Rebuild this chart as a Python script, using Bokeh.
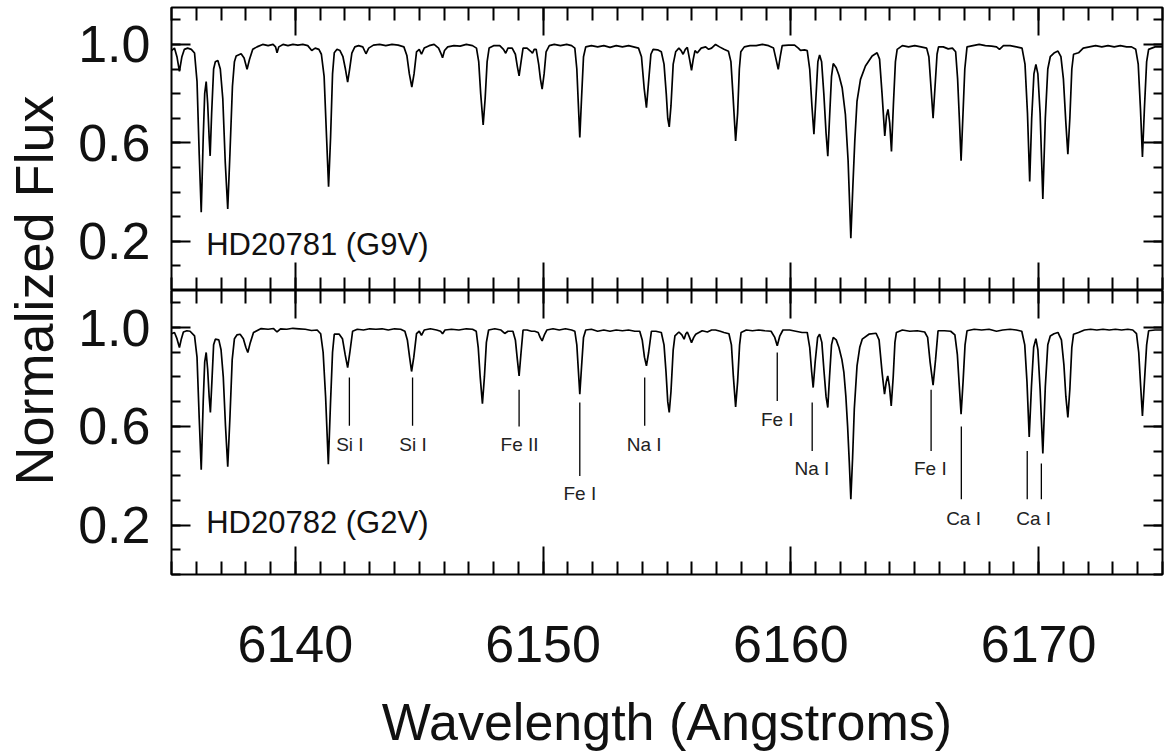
import math
from bokeh.plotting import figure
from bokeh.models import (Range1d, LinearAxis, FixedTicker, Label, ColumnDataSource,
                          CustomJSTickFormatter, PrintfTickFormatter)
from bokeh.layouts import row, column
from bokeh.embed import file_html
from bokeh.resources import INLINE
from bokeh.core.properties import value

# ---------------- data ----------------
x_major_ticks = [6140, 6150, 6160, 6170]
y_major_ticks = [0.2, 0.6, 1.0]

star_top = "HD20781 (G9V)"
star_bottom = "HD20782 (G2V)"

wl_top = [6135.00, 6135.12, 6135.22, 6135.32, 6135.42, 6135.52, 6135.65, 6135.80, 6135.93, 6136.03,
          6136.12, 6136.20, 6136.28, 6136.34, 6136.40, 6136.46, 6136.52, 6136.56, 6136.62, 6136.70,
          6136.77, 6136.87, 6136.97, 6137.07, 6137.17, 6137.27, 6137.36, 6137.46, 6137.54, 6137.61,
          6137.81, 6137.93, 6138.05, 6138.15, 6138.28, 6138.45, 6138.68, 6138.90, 6139.10, 6139.20,
          6139.26, 6139.33, 6139.50, 6139.70, 6139.90, 6140.10, 6140.30, 6140.50, 6140.66, 6140.80,
          6140.95, 6141.05, 6141.16, 6141.26, 6141.34, 6141.42, 6141.50, 6141.57, 6141.68, 6141.80,
          6141.92, 6142.02, 6142.11, 6142.19, 6142.28, 6142.40, 6142.55, 6142.72, 6142.85, 6142.96,
          6143.15, 6143.40, 6143.65, 6143.90, 6144.15, 6144.38, 6144.50, 6144.60, 6144.70, 6144.79,
          6144.89, 6145.00, 6145.09, 6145.20, 6145.40, 6145.60, 6145.78, 6145.87, 6145.94, 6146.02,
          6146.15, 6146.40, 6146.65, 6146.90, 6147.15, 6147.31, 6147.40, 6147.48, 6147.58, 6147.66,
          6147.74, 6147.82, 6148.00, 6148.25, 6148.40, 6148.49, 6148.58, 6148.75, 6148.88, 6148.96,
          6149.03, 6149.11, 6149.19, 6149.35, 6149.50, 6149.57, 6149.64, 6149.72, 6149.82, 6149.89,
          6149.96, 6150.04, 6150.12, 6150.25, 6150.45, 6150.70, 6150.95, 6151.15, 6151.28, 6151.36,
          6151.42, 6151.48, 6151.55, 6151.63, 6151.72, 6151.95, 6152.20, 6152.45, 6152.70, 6152.95,
          6153.20, 6153.45, 6153.65, 6153.85, 6153.97, 6154.08, 6154.17, 6154.25, 6154.35, 6154.44,
          6154.62, 6154.77, 6154.88, 6154.97, 6155.03, 6155.09, 6155.16, 6155.25, 6155.35, 6155.48,
          6155.57, 6155.65, 6155.74, 6155.82, 6155.91, 6155.99, 6156.06, 6156.13, 6156.22, 6156.38,
          6156.56, 6156.68, 6156.80, 6156.96, 6157.12, 6157.30, 6157.48, 6157.58, 6157.66, 6157.77,
          6157.85, 6157.92, 6157.98, 6158.12, 6158.35, 6158.60, 6158.85, 6159.10, 6159.30, 6159.40,
          6159.49, 6159.57, 6159.65, 6159.90, 6160.15, 6160.30, 6160.39, 6160.55, 6160.66, 6160.76,
          6160.85, 6160.93, 6161.01, 6161.09, 6161.16, 6161.24, 6161.33, 6161.42, 6161.49, 6161.56,
          6161.64, 6161.71, 6161.83, 6161.94, 6162.07, 6162.20, 6162.31, 6162.42, 6162.50, 6162.58,
          6162.67, 6162.81, 6163.01, 6163.28, 6163.48, 6163.58, 6163.68, 6163.79, 6163.86, 6163.92,
          6163.99, 6164.06, 6164.14, 6164.22, 6164.29, 6164.50, 6164.75, 6165.00, 6165.25, 6165.48,
          6165.57, 6165.66, 6165.74, 6165.82, 6165.90, 6165.96, 6166.15, 6166.35, 6166.52, 6166.65,
          6166.73, 6166.80, 6166.87, 6166.94, 6167.02, 6167.11, 6167.35, 6167.60, 6167.85, 6168.10,
          6168.30, 6168.42, 6168.58, 6168.85, 6169.10, 6169.33, 6169.45, 6169.55, 6169.64, 6169.72,
          6169.81, 6169.89, 6169.97, 6170.06, 6170.17, 6170.27, 6170.37, 6170.47, 6170.62, 6170.78,
          6170.90, 6171.00, 6171.10, 6171.18, 6171.26, 6171.34, 6171.41, 6171.61, 6171.80, 6172.05,
          6172.30, 6172.55, 6172.80, 6173.05, 6173.30, 6173.55, 6173.75, 6173.92, 6174.02, 6174.11,
          6174.19, 6174.27, 6174.36, 6174.44, 6174.70, 6175.00]
flux_top = [0.975, 0.985, 0.95, 0.89, 0.95, 0.98, 0.985, 0.98, 0.965, 0.85,
            0.55, 0.318, 0.62, 0.80, 0.849, 0.76, 0.62, 0.547, 0.72, 0.90,
            0.93, 0.935, 0.90, 0.78, 0.52, 0.331, 0.56, 0.83, 0.93, 0.953,
            0.962, 0.945, 0.899, 0.94, 0.98, 0.99, 1.0, 0.995, 1.0, 0.99,
            0.966, 0.99, 1.0, 0.995, 1.0, 0.997, 1.0, 0.995, 0.975, 0.985,
            0.98, 0.96, 0.87, 0.62, 0.422, 0.62, 0.88, 0.966, 0.98, 0.975,
            0.95, 0.90, 0.847, 0.90, 0.965, 0.99, 0.995, 0.99, 0.962, 0.985,
            0.997, 1.0, 0.995, 1.0, 0.997, 0.99, 0.955, 0.88, 0.827, 0.88,
            0.97, 0.98, 0.96, 0.985, 0.995, 1.0, 0.985, 0.965, 0.946, 0.975,
            0.99, 0.995, 0.993, 1.0, 0.995, 0.985, 0.93, 0.80, 0.673, 0.78,
            0.93, 0.985, 0.995, 0.995, 0.98, 0.964, 0.985, 0.985, 0.96, 0.91,
            0.872, 0.93, 0.985, 0.985, 0.972, 0.964, 0.98, 0.98, 0.92, 0.86,
            0.818, 0.88, 0.97, 0.995, 1.0, 0.995, 1.0, 0.995, 0.985, 0.90,
            0.76, 0.622, 0.78, 0.95, 0.99, 0.995, 0.99, 0.995, 0.988, 0.995,
            0.99, 0.995, 0.99, 0.985, 0.95, 0.82, 0.743, 0.84, 0.96, 0.98,
            0.978, 0.97, 0.92, 0.80, 0.70, 0.665, 0.75, 0.92, 0.97, 0.985,
            0.975, 0.96, 0.98, 0.988, 0.94, 0.895, 0.94, 0.975, 0.965, 0.985,
            0.99, 0.98, 0.985, 1.0, 0.99, 0.98, 0.972, 0.93, 0.80, 0.608,
            0.72, 0.90, 0.97, 0.99, 0.995, 0.995, 1.0, 0.995, 0.985, 0.94,
            0.899, 0.95, 0.995, 0.997, 0.997, 0.985, 0.976, 0.978, 0.975, 0.90,
            0.75, 0.635, 0.78, 0.93, 0.957, 0.93, 0.80, 0.64, 0.546, 0.70,
            0.87, 0.922, 0.905, 0.875, 0.824, 0.716, 0.527, 0.212, 0.419, 0.608,
            0.77, 0.858, 0.912, 0.953, 0.966, 0.94, 0.80, 0.628, 0.71, 0.736,
            0.68, 0.565, 0.76, 0.93, 0.98, 0.995, 0.99, 0.995, 0.99, 0.985,
            0.95, 0.82, 0.70, 0.83, 0.96, 0.99, 0.99, 0.982, 0.985, 0.97,
            0.86, 0.70, 0.527, 0.70, 0.90, 0.99, 0.995, 1.0, 0.995, 0.993,
            0.99, 0.98, 0.995, 0.995, 0.99, 0.985, 0.92, 0.72, 0.443, 0.70,
            0.88, 0.919, 0.88, 0.72, 0.372, 0.70, 0.90, 0.95, 0.965, 0.973,
            0.95, 0.86, 0.68, 0.554, 0.70, 0.90, 0.96, 0.966, 0.985, 0.99,
            0.995, 0.99, 0.995, 0.99, 0.995, 0.99, 0.99, 0.98, 0.92, 0.74,
            0.543, 0.74, 0.93, 0.98, 0.99, 0.99]

wl_bottom = [6135.00, 6135.12, 6135.22, 6135.32, 6135.40, 6135.48, 6135.62, 6135.75, 6135.93, 6136.03,
             6136.12, 6136.20, 6136.28, 6136.34, 6136.40, 6136.46, 6136.52, 6136.57, 6136.63, 6136.70,
             6136.77, 6136.91, 6137.00, 6137.09, 6137.18, 6137.27, 6137.36, 6137.45, 6137.54, 6137.64,
             6137.77, 6137.90, 6138.00, 6138.08, 6138.17, 6138.31, 6138.62, 6138.90, 6139.12, 6139.26,
             6139.40, 6139.65, 6139.90, 6140.15, 6140.40, 6140.65, 6140.88, 6141.02, 6141.12, 6141.22,
             6141.33, 6141.42, 6141.50, 6141.57, 6141.77, 6141.90, 6142.01, 6142.11, 6142.20, 6142.31,
             6142.50, 6142.75, 6143.00, 6143.25, 6143.50, 6143.75, 6144.00, 6144.25, 6144.42, 6144.52,
             6144.61, 6144.69, 6144.78, 6144.89, 6145.00, 6145.09, 6145.20, 6145.45, 6145.70, 6145.86,
             6145.94, 6146.04, 6146.30, 6146.60, 6146.90, 6147.15, 6147.30, 6147.38, 6147.46, 6147.55,
             6147.63, 6147.71, 6147.80, 6148.05, 6148.30, 6148.45, 6148.58, 6148.78, 6148.88, 6148.96,
             6149.03, 6149.11, 6149.19, 6149.35, 6149.53, 6149.66, 6149.80, 6149.88, 6149.96, 6150.05,
             6150.15, 6150.40, 6150.65, 6150.90, 6151.15, 6151.28, 6151.36, 6151.42, 6151.48, 6151.55,
             6151.63, 6151.72, 6151.95, 6152.20, 6152.45, 6152.70, 6152.95, 6153.20, 6153.45, 6153.70,
             6153.90, 6154.00, 6154.09, 6154.17, 6154.26, 6154.37, 6154.55, 6154.77, 6154.88, 6154.96,
             6155.03, 6155.09, 6155.16, 6155.25, 6155.32, 6155.48, 6155.60, 6155.69, 6155.76, 6155.82,
             6155.91, 6155.99, 6156.08, 6156.16, 6156.42, 6156.63, 6156.80, 6156.96, 6157.15, 6157.30,
             6157.50, 6157.60, 6157.68, 6157.77, 6157.85, 6157.93, 6157.99, 6158.20, 6158.45, 6158.70,
             6158.95, 6159.20, 6159.35, 6159.45, 6159.55, 6159.68, 6159.95, 6160.20, 6160.45, 6160.66,
             6160.76, 6160.84, 6160.90, 6160.98, 6161.08, 6161.16, 6161.25, 6161.34, 6161.42, 6161.49,
             6161.56, 6161.64, 6161.71, 6161.83, 6161.94, 6162.06, 6162.14, 6162.22, 6162.29, 6162.36,
             6162.42, 6162.49, 6162.56, 6162.67, 6162.78, 6162.88, 6163.15, 6163.44, 6163.56, 6163.68,
             6163.78, 6163.85, 6163.91, 6163.98, 6164.05, 6164.13, 6164.20, 6164.26, 6164.50, 6164.80,
             6165.10, 6165.40, 6165.52, 6165.62, 6165.74, 6165.84, 6165.94, 6166.20, 6166.45, 6166.62,
             6166.72, 6166.80, 6166.87, 6166.95, 6167.03, 6167.11, 6167.40, 6167.70, 6168.00, 6168.30,
             6168.55, 6168.85, 6169.10, 6169.32, 6169.44, 6169.53, 6169.62, 6169.71, 6169.80, 6169.89,
             6169.97, 6170.06, 6170.17, 6170.27, 6170.37, 6170.47, 6170.62, 6170.78, 6170.92, 6171.02,
             6171.10, 6171.18, 6171.26, 6171.34, 6171.41, 6171.61, 6171.85, 6172.10, 6172.35, 6172.60,
             6172.85, 6173.10, 6173.35, 6173.60, 6173.80, 6173.95, 6174.04, 6174.12, 6174.19, 6174.27,
             6174.36, 6174.44, 6174.70, 6175.00]
flux_bottom = [0.975, 0.98, 0.955, 0.919, 0.955, 0.982, 0.987, 0.985, 0.966, 0.88,
               0.63, 0.424, 0.70, 0.86, 0.899, 0.83, 0.72, 0.656, 0.78, 0.93,
               0.953, 0.95, 0.91, 0.80, 0.60, 0.436, 0.64, 0.87, 0.955, 0.97,
               0.973, 0.955, 0.92, 0.899, 0.935, 0.98, 0.996, 0.993, 0.996, 0.982,
               0.995, 0.993, 0.997, 0.995, 0.993, 0.988, 0.99, 0.975, 0.90, 0.72,
               0.447, 0.70, 0.90, 0.973, 0.973, 0.955, 0.89, 0.838, 0.90, 0.985,
               0.993, 0.99, 0.995, 0.993, 0.995, 0.99, 0.995, 0.993, 0.985, 0.95,
               0.88, 0.822, 0.88, 0.975, 0.985, 0.968, 0.99, 0.995, 0.99, 0.985,
               0.975, 0.99, 0.993, 0.99, 0.995, 0.993, 0.985, 0.92, 0.80, 0.692,
               0.80, 0.94, 0.99, 0.995, 0.99, 0.976, 0.985, 0.985, 0.95, 0.87,
               0.804, 0.90, 0.99, 0.99, 0.985, 0.985, 0.98, 0.96, 0.946, 0.97,
               0.99, 0.995, 0.99, 0.995, 0.99, 0.985, 0.93, 0.83, 0.73, 0.84,
               0.96, 0.99, 0.993, 0.985, 0.99, 0.985, 0.99, 0.987, 0.99, 0.985,
               0.985, 0.95, 0.88, 0.845, 0.90, 0.985, 0.985, 0.98, 0.93, 0.82,
               0.70, 0.656, 0.74, 0.91, 0.966, 0.982, 0.97, 0.953, 0.975, 0.982,
               0.96, 0.939, 0.96, 0.973, 0.987, 0.982, 0.99, 0.99, 0.985, 0.98,
               0.975, 0.93, 0.80, 0.679, 0.78, 0.93, 0.98, 0.99, 0.987, 0.99,
               0.987, 0.985, 0.96, 0.926, 0.965, 0.99, 0.99, 0.985, 0.98, 0.98,
               0.92, 0.82, 0.757, 0.86, 0.96, 0.973, 0.94, 0.82, 0.72, 0.676,
               0.80, 0.93, 0.96, 0.95, 0.919, 0.87, 0.818, 0.72, 0.60, 0.45,
               0.305, 0.47, 0.67, 0.845, 0.92, 0.953, 0.973, 0.977, 0.95, 0.82,
               0.73, 0.78, 0.804, 0.76, 0.683, 0.80, 0.94, 0.98, 0.99, 0.985,
               0.987, 0.982, 0.96, 0.86, 0.767, 0.87, 0.987, 0.987, 0.985, 0.97,
               0.89, 0.76, 0.649, 0.78, 0.93, 0.987, 0.993, 0.99, 0.993, 0.985,
               0.99, 0.993, 0.99, 0.985, 0.93, 0.78, 0.557, 0.76, 0.92, 0.955,
               0.91, 0.75, 0.49, 0.76, 0.93, 0.966, 0.975, 0.98, 0.95, 0.85,
               0.72, 0.636, 0.75, 0.92, 0.973, 0.98, 0.99, 0.993, 0.99, 0.993,
               0.99, 0.993, 0.99, 0.993, 0.99, 0.975, 0.90, 0.76, 0.642, 0.78,
               0.93, 0.987, 0.99, 0.99]

# line identifications (bottom panel)
mark_x = [6142.18, 6144.73, 6149.03, 6151.48, 6154.10, 6159.45, 6160.86, 6165.66, 6166.88, 6169.54, 6170.11]
mark_top = [0.798, 0.798, 0.748, 0.696, 0.798, 0.899, 0.696, 0.748, 0.599, 0.50, 0.449]
mark_bottom = [0.602, 0.602, 0.599, 0.399, 0.602, 0.703, 0.50, 0.50, 0.305, 0.305, 0.305]
ion_names = ["Si I", "Si I", "Fe II", "Fe I", "Na I", "Fe I", "Na I", "Fe I", "Ca I", "Ca I"]
ion_x = [6142.20, 6144.75, 6149.05, 6151.48, 6154.08, 6159.45, 6160.85, 6165.63, 6166.97, 6169.80]
ion_y = [0.528, 0.528, 0.528, 0.329, 0.528, 0.629, 0.428, 0.428, 0.228, 0.228]

# ---------------- styling / layout ----------------
FONT = "Liberation Sans"
BIG = "52px"
X0, X1 = 6135.0, 6175.0
Y0, Y1 = 0.0, 1.15
x_minor = list(range(6135, 6176))
y_minor = [round(0.1 * i, 1) for i in range(0, 12)]

LABEL_W = 72
PANEL_W = 1092
BORDER_L = 99
BORDER_R = 2
TOP_BORDER = 7
TOP_H = 290
BOT_H = 465
BOT_BORDER = 181

shared_x = Range1d(X0, X1)


def make_axis(ticks, minor, major_len, minor_len, labels):
    ax = LinearAxis(ticker=FixedTicker(ticks=ticks, minor_ticks=minor))
    ax.axis_line_color = None
    ax.major_tick_in = major_len
    ax.major_tick_out = 0
    ax.minor_tick_in = minor_len
    ax.minor_tick_out = 0
    ax.major_tick_line_width = 2
    ax.minor_tick_line_width = 2
    ax.major_tick_line_color = "black"
    ax.minor_tick_line_color = "black"
    if labels:
        ax.major_label_text_font = FONT
        ax.major_label_text_font_size = BIG
        ax.major_label_text_color = "#111111"
    else:
        ax.formatter = CustomJSTickFormatter(code="return ''")
        ax.major_label_text_font_size = "0px"
        ax.major_label_standoff = 0
    return ax


def make_panel(wl, flux, star, star_y, height, top_border, bottom_border, x_labels):
    p = figure(width=PANEL_W, height=height, x_range=shared_x, y_range=Range1d(Y0, Y1),
               output_backend="svg", toolbar_location=None,
               x_axis_location=None, y_axis_location=None,
               min_border_left=BORDER_L, min_border_right=BORDER_R,
               min_border_top=top_border, min_border_bottom=bottom_border)
    p.grid.visible = False
    p.outline_line_color = "black"
    p.outline_line_width = 2
    p.background_fill_color = "white"
    p.border_fill_color = "white"

    left = make_axis(y_major_ticks, y_minor, 19, 9, True)
    left.formatter = PrintfTickFormatter(format="%.1f")
    left.major_label_standoff = 21
    p.add_layout(left, "left")
    p.add_layout(make_axis(y_major_ticks, y_minor, 19, 9, False), "right")
    p.add_layout(make_axis(x_major_ticks, x_minor, 28, 13, False), "above")
    bottom = make_axis(x_major_ticks, x_minor, 28, 13, x_labels)
    if x_labels:
        bottom.major_label_standoff = 51
        bottom.axis_label = "Wavelength (Angstroms)"
        bottom.axis_label_text_font = FONT
        bottom.axis_label_text_font_size = BIG
        bottom.axis_label_text_font_style = "normal"
        bottom.axis_label_text_color = "#111111"
        bottom.axis_label_standoff = 28
    p.add_layout(bottom, "below")

    src = ColumnDataSource(dict(wl=wl, flux=flux))
    p.line("wl", "flux", source=src, line_color="black", line_width=1.7)
    p.add_layout(Label(x=6136.40, y=star_y, text=star, text_font=FONT, text_font_size="31px",
                       text_baseline="middle", text_align="left", text_color="#111111"))
    return p


top = make_panel(wl_top, flux_top, star_top, 0.186, TOP_H, TOP_BORDER, 0, False)
bot = make_panel(wl_bottom, flux_bottom, star_bottom, 0.211, BOT_H, 0, BOT_BORDER, True)

marks = ColumnDataSource(dict(x=mark_x, y0=mark_bottom, y1=mark_top))
bot.segment(x0="x", y0="y0", x1="x", y1="y1", source=marks, line_color="black", line_width=1.3)
ions = ColumnDataSource(dict(x=ion_x, y=ion_y, t=ion_names))
bot.text(x="x", y="y", text="t", source=ions, text_font=value(FONT), text_font_size="19px",
         text_align="center", text_baseline="middle", text_color="#222222")

# y-axis title column
TOTAL_H = TOP_H + BOT_H
lab = figure(width=LABEL_W, height=TOTAL_H, x_range=Range1d(0, LABEL_W), y_range=Range1d(0, TOTAL_H),
             output_backend="svg", toolbar_location=None, x_axis_location=None, y_axis_location=None,
             min_border=0)
lab.grid.visible = False
lab.outline_line_color = None
lab.add_layout(Label(x=33, y=TOTAL_H - 290, text="Normalized Flux", angle=math.pi / 2,
                     text_font=FONT, text_font_size="54px", text_align="center",
                     text_baseline="alphabetic", text_color="#111111"))

layout = row(lab, column(top, bot))
open("out.html", "w").write(file_html(layout, INLINE))
